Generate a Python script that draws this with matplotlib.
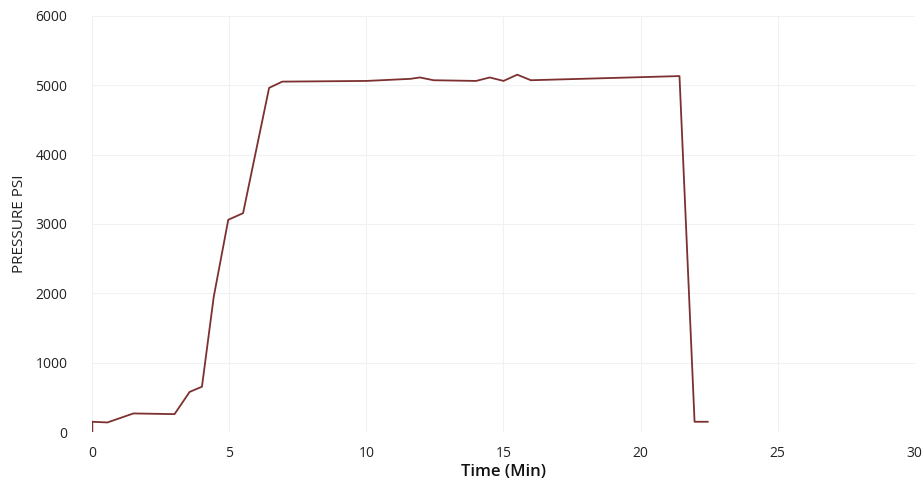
import matplotlib.pyplot as plt

plt.rcParams['font.family'] = ['Open Sans', 'DejaVu Sans']

# pressure record
time_min = [0, 0, 0.55, 1.5, 3.0, 3.55, 4.0, 4.43, 4.96, 5.5, 6.45, 6.93,
            10.0, 11.6, 11.95, 12.45, 14.0, 14.5, 15.0, 15.5, 16.0,
            21.42, 21.97, 22.45]
pressure_psi = [0, 150, 140, 270, 260, 580, 655, 1950, 3060, 3155, 4960, 5050,
                5060, 5090, 5110, 5070, 5060, 5110, 5060, 5150, 5070,
                5130, 150, 150]

x_ticks = [0, 5, 10, 15, 20, 25, 30]
y_ticks = [0, 1000, 2000, 3000, 4000, 5000, 6000]

fig = plt.figure(figsize=(9.23, 4.9), dpi=100)
ax = fig.add_axes([0.1, 0.118, 0.891, 0.85])

ax.plot(time_min, pressure_psi, color='#7d3030', linewidth=1.3)

ax.set_xlim(0, 30)
ax.set_ylim(0, 6000)
ax.set_xticks(x_ticks)
ax.set_yticks(y_ticks)
ax.grid(True, color='#eef2f2', linewidth=0.8)
ax.set_axisbelow(True)
for s in ax.spines.values():
    s.set_visible(False)
ax.tick_params(length=0, labelsize=10, colors='#222222')
ax.tick_params(axis='x', pad=10)
ax.tick_params(axis='y', pad=18)

ax.set_xlabel('Time (Min)', fontsize=12, fontweight='semibold', color='#111111', labelpad=2)
ax.set_ylabel('PRESSURE PSI', fontsize=11, color='#222222', labelpad=6)

fig.savefig('out.png', dpi=100)
